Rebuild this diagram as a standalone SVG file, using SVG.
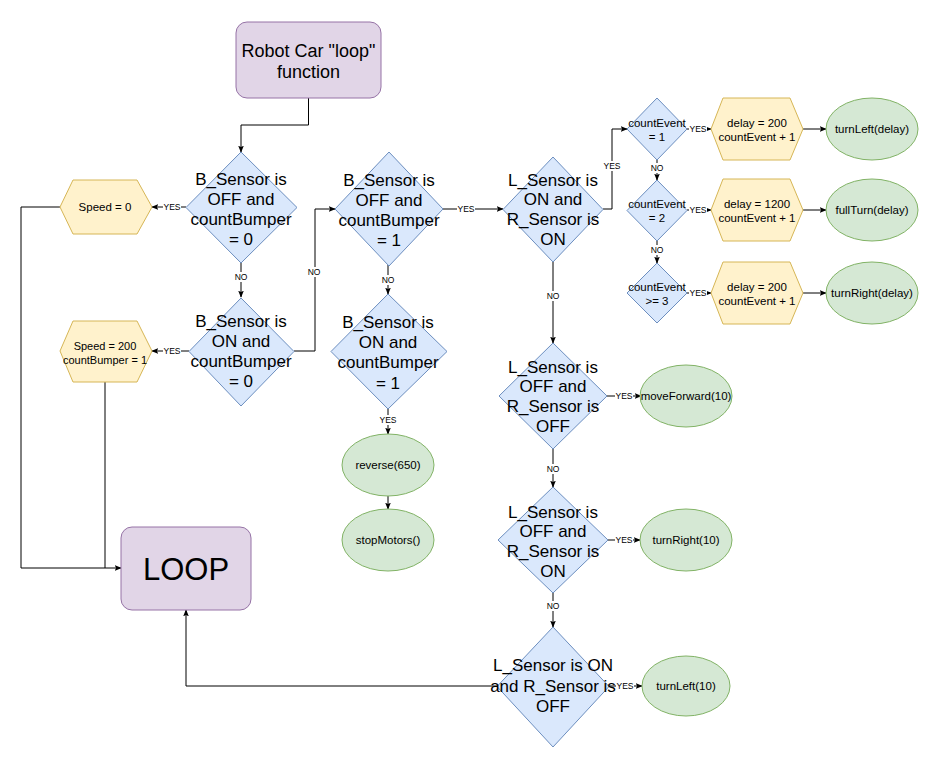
<svg xmlns="http://www.w3.org/2000/svg" width="940" height="772" viewBox="0 0 940 772">
<style>
text{font-family:"Liberation Sans",Arial,sans-serif;fill:#000;text-anchor:middle;}
.dia{fill:#dae8fc;stroke:#6c8ebf;stroke-width:1;}
.hex{fill:#fff2cc;stroke:#d6b656;stroke-width:1;}
.ell{fill:#d5e8d4;stroke:#82b366;stroke-width:1;}
.term{fill:#e1d5e7;stroke:#9673a6;stroke-width:1;}
.big{font-size:17px;}
.sm{font-size:11.5px;}
.edge{fill:none;stroke:#000;stroke-width:1;}
.arr{marker-end:url(#ah);}
.lbl{font-size:8.5px;}
.lblbg{fill:#fff;}
</style>
<defs>
<marker id="ah" viewBox="0 0 10 10" refX="9" refY="5" markerWidth="7" markerHeight="7" markerUnits="userSpaceOnUse" orient="auto">
<path d="M0,1 L10,5 L0,9 L2,5 Z" fill="#000"/>
</marker>
</defs>
<rect width="940" height="772" fill="#fff"/>

<g id="connectors">
<path class="edge arr" d="M308.5,98 V125 H241 V152"/>
<path class="edge arr" d="M186,207 H152"/>
<path class="edge arr" d="M60,207 H21 V568 H121"/>
<path class="edge arr" d="M241,263 V297"/>
<path class="edge arr" d="M189,351 H152"/>
<path class="edge" stroke="#555" d="M105,382 V568"/>
<path class="edge arr" d="M294,351 H315 V209 H335"/>
<path class="edge arr" d="M443,209 H503"/>
<path class="edge arr" d="M388,265 V294"/>
<path class="edge arr" d="M388,409 V434"/>
<path class="edge arr" d="M388,496 V509"/>
<path class="edge arr" d="M603,209 H612 V129 H627"/>
<path class="edge arr" d="M687,129 H711"/>
<path class="edge arr" d="M803,129 H826"/>
<path class="edge arr" d="M657,160 V180"/>
<path class="edge arr" d="M687,210 H711"/>
<path class="edge arr" d="M803,210 H826"/>
<path class="edge arr" d="M657,241 V263"/>
<path class="edge arr" d="M687,293 H711"/>
<path class="edge arr" d="M803,293 H826"/>
<path class="edge arr" d="M553,262 V343"/>
<path class="edge arr" d="M607,396 H641"/>
<path class="edge arr" d="M553,449 V487"/>
<path class="edge arr" d="M608,540 H640"/>
<path class="edge arr" d="M553,593 V627"/>
<path class="edge arr" d="M609,686 H642"/>
<path class="edge arr" d="M497,686 H186 V610"/>
<g id="edge-labels">
<rect class="lblbg" x="163" y="202" width="18" height="10"/><text class="lbl" x="172" y="210">YES</text>
<rect class="lblbg" x="234" y="272" width="14" height="10"/><text class="lbl" x="241" y="280">NO</text>
<rect class="lblbg" x="163" y="346" width="18" height="10"/><text class="lbl" x="172" y="354">YES</text>
<rect class="lblbg" x="307" y="267" width="14" height="10"/><text class="lbl" x="314" y="275">NO</text>
<rect class="lblbg" x="457" y="204" width="18" height="10"/><text class="lbl" x="466" y="212">YES</text>
<rect class="lblbg" x="381" y="275" width="14" height="10"/><text class="lbl" x="388" y="283">NO</text>
<rect class="lblbg" x="379" y="415" width="18" height="10"/><text class="lbl" x="388" y="423">YES</text>
<rect class="lblbg" x="603" y="161" width="18" height="10"/><text class="lbl" x="612" y="169">YES</text>
<rect class="lblbg" x="689" y="124" width="18" height="10"/><text class="lbl" x="698" y="132">YES</text>
<rect class="lblbg" x="650" y="163" width="14" height="10"/><text class="lbl" x="657" y="171">NO</text>
<rect class="lblbg" x="689" y="205" width="18" height="10"/><text class="lbl" x="698" y="213">YES</text>
<rect class="lblbg" x="650" y="245" width="14" height="10"/><text class="lbl" x="657" y="253">NO</text>
<rect class="lblbg" x="689" y="288" width="18" height="10"/><text class="lbl" x="698" y="296">YES</text>
<rect class="lblbg" x="546" y="291" width="14" height="10"/><text class="lbl" x="553" y="299">NO</text>
<rect class="lblbg" x="615" y="391" width="18" height="10"/><text class="lbl" x="624" y="399">YES</text>
<rect class="lblbg" x="546" y="464" width="14" height="10"/><text class="lbl" x="553" y="472">NO</text>
<rect class="lblbg" x="615" y="535" width="18" height="10"/><text class="lbl" x="624" y="543">YES</text>
<rect class="lblbg" x="546" y="601" width="14" height="10"/><text class="lbl" x="553" y="609">NO</text>
<rect class="lblbg" x="616" y="681" width="18" height="10"/><text class="lbl" x="625" y="689">YES</text>
</g>
</g>

<g id="start">
<rect class="term" x="236" y="22" width="145" height="76" rx="11"/>
<text x="308.5" y="57" font-size="18">Robot Car "loop"</text>
<text x="308.5" y="78" font-size="18">function</text>
</g>

<g id="loop">
<rect class="term" x="121" y="527" width="130" height="83" rx="11"/>
<text x="186" y="580" font-size="31">LOOP</text>
</g>

<g id="d1">
<polygon class="dia" points="241,152 297,207.5 241,263 186,207.5"/>
<text class="big" x="241" y="185">B_Sensor is</text>
<text class="big" x="241" y="205">OFF and</text>
<text class="big" x="241" y="225">countBumper</text>
<text class="big" x="241" y="245">= 0</text>
</g>

<g id="speed0">
<polygon class="hex" points="60,207 73,180 137,180 152,207 137,234 73,234"/>
<text class="sm" x="105" y="211">Speed = 0</text>
</g>

<g id="d2">
<polygon class="dia" points="241,298 294,351.5 241,406 189,351.5"/>
<text class="big" x="241" y="327">B_Sensor is</text>
<text class="big" x="241" y="347">ON and</text>
<text class="big" x="241" y="367">countBumper</text>
<text class="big" x="241" y="387">= 0</text>
</g>

<g id="speed200">
<polygon class="hex" points="60,351 73,321 137,321 152,351 137,382 73,382"/>
<text x="105" y="350" font-size="11">Speed = 200</text>
<text x="105" y="364" font-size="11">countBumper = 1</text>
</g>

<g id="d3">
<polygon class="dia" points="389,152 443,209 389,266 335,209"/>
<text class="big" x="389" y="186">B_Sensor is</text>
<text class="big" x="389" y="206">OFF and</text>
<text class="big" x="389" y="226">countBumper</text>
<text class="big" x="389" y="246">= 1</text>
</g>

<g id="d4">
<polygon class="dia" points="388,294 447,351.5 388,409 331,351.5"/>
<text class="big" x="388" y="328">B_Sensor is</text>
<text class="big" x="388" y="348">ON and</text>
<text class="big" x="388" y="368">countBumper</text>
<text class="big" x="388" y="389">= 1</text>
</g>

<g id="reverse">
<ellipse class="ell" cx="388" cy="465" rx="46" ry="31"/>
<text class="sm" x="388" y="469">reverse(650)</text>
</g>

<g id="stop">
<ellipse class="ell" cx="388" cy="540" rx="46" ry="31"/>
<text class="sm" x="388" y="544">stopMotors()</text>
</g>

<g id="d5">
<polygon class="dia" points="553,157 603,209.5 553,262 503,209.5"/>
<text class="big" x="553" y="186">L_Sensor is</text>
<text class="big" x="553" y="205">ON and</text>
<text class="big" x="553" y="225">R_Sensor is</text>
<text class="big" x="553" y="245">ON</text>
</g>

<g id="ce1">
<polygon class="dia" points="657,98 687,129 657,160 627,129"/>
<text class="sm" x="657" y="127">countEvent</text>
<text class="sm" x="657" y="141">= 1</text>
</g>
<g id="hex1">
<polygon class="hex" points="711,129 723,98 790,98 803,129 790,160 723,160"/>
<text class="sm" x="757" y="127">delay = 200</text>
<text class="sm" x="757" y="141">countEvent + 1</text>
</g>
<g id="turnLeftDelay">
<ellipse class="ell" cx="872" cy="129" rx="46" ry="31"/>
<text class="sm" x="872" y="133">turnLeft(delay)</text>
</g>

<g id="ce2">
<polygon class="dia" points="657,180 687,210.5 657,241 627,210.5"/>
<text class="sm" x="657" y="208">countEvent</text>
<text class="sm" x="657" y="222">= 2</text>
</g>
<g id="hex2">
<polygon class="hex" points="711,210 723,179 790,179 803,210 790,241 723,241"/>
<text class="sm" x="757" y="208">delay = 1200</text>
<text class="sm" x="757" y="222">countEvent + 1</text>
</g>
<g id="fullTurn">
<ellipse class="ell" cx="872" cy="210" rx="46" ry="31"/>
<text class="sm" x="872" y="214">fullTurn(delay)</text>
</g>

<g id="ce3">
<polygon class="dia" points="657,263 687,293 657,323 627,293"/>
<text class="sm" x="657" y="291">countEvent</text>
<text class="sm" x="657" y="305">&gt;= 3</text>
</g>
<g id="hex3">
<polygon class="hex" points="711,293 723,262 790,262 803,293 790,324 723,324"/>
<text class="sm" x="757" y="291">delay = 200</text>
<text class="sm" x="757" y="305">countEvent + 1</text>
</g>
<g id="turnRightDelay">
<ellipse class="ell" cx="872" cy="293" rx="46" ry="31"/>
<text class="sm" x="872" y="297">turnRight(delay)</text>
</g>

<g id="d6">
<polygon class="dia" points="553,343 607,396 553,449 499,396"/>
<text class="big" x="553" y="373">L_Sensor is</text>
<text class="big" x="553" y="392">OFF and</text>
<text class="big" x="553" y="412">R_Sensor is</text>
<text class="big" x="553" y="432">OFF</text>
</g>
<g id="moveForward">
<ellipse class="ell" cx="686" cy="396" rx="46" ry="31"/>
<text class="sm" x="686" y="400">moveForward(10)</text>
</g>

<g id="d7">
<polygon class="dia" points="553,487 608,540 553,593 498,540"/>
<text class="big" x="553" y="518">L_Sensor is</text>
<text class="big" x="553" y="537">OFF and</text>
<text class="big" x="553" y="557">R_Sensor is</text>
<text class="big" x="553" y="577">ON</text>
</g>
<g id="turnRight10">
<ellipse class="ell" cx="686" cy="540" rx="46" ry="31"/>
<text class="sm" x="686" y="544">turnRight(10)</text>
</g>

<g id="d8">
<polygon class="dia" points="553,627 609,686.5 553,747 497,686.5"/>
<text class="big" x="553" y="671">L_Sensor is ON</text>
<text class="big" x="553" y="692">and R_Sensor is</text>
<text class="big" x="553" y="712">OFF</text>
</g>
<g id="turnLeft10">
<ellipse class="ell" cx="686" cy="686" rx="44" ry="30"/>
<text class="sm" x="686" y="690">turnLeft(10)</text>
</g>
</svg>
